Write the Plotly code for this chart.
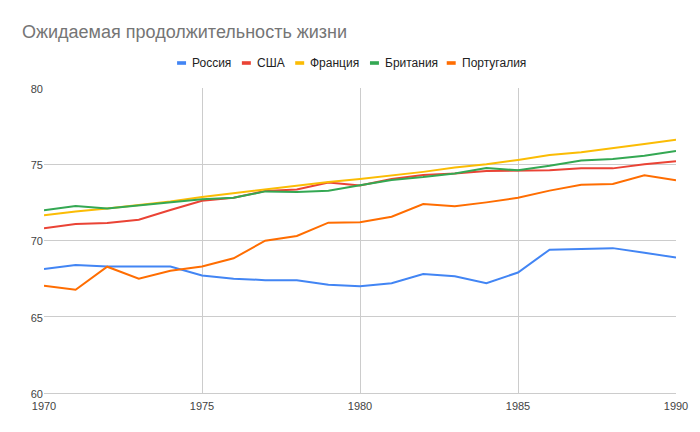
import plotly.graph_objects as go

years = list(range(1970, 1991))
russia = [68.13, 68.4, 68.3, 68.3, 68.3, 67.7, 67.5, 67.4, 67.4, 67.1, 67.0, 67.2, 67.8, 67.65, 67.2, 67.9, 69.4, 69.45, 69.5, 69.2, 68.88]
usa = [70.8, 71.08, 71.15, 71.36, 72.0, 72.6, 72.8, 73.25, 73.35, 73.8, 73.6, 74.03, 74.3, 74.4, 74.55, 74.58, 74.6, 74.73, 74.73, 75.0, 75.2]
france = [71.65, 71.9, 72.1, 72.3, 72.55, 72.85, 73.1, 73.33, 73.6, 73.84, 74.03, 74.25, 74.5, 74.78, 75.0, 75.28, 75.6, 75.78, 76.07, 76.33, 76.6]
britain = [71.98, 72.26, 72.1, 72.3, 72.52, 72.7, 72.8, 73.22, 73.18, 73.27, 73.62, 73.97, 74.16, 74.4, 74.75, 74.6, 74.9, 75.25, 75.34, 75.56, 75.87]
portugal = [67.04, 66.77, 68.28, 67.5, 68.02, 68.3, 68.83, 69.99, 70.3, 71.17, 71.19, 71.56, 72.39, 72.24, 72.5, 72.8, 73.27, 73.66, 73.7, 74.27, 73.95]

names = ["Россия", "США", "Франция", "Британия", "Португалия"]
colors = ["#4285F4", "#EA4335", "#FBBC04", "#34A853", "#FF6D01"]
series = [russia, usa, france, britain, portugal]

W, H = 700, 432
ML, MR, MT, MB = 44, 22, 88, 39
PW, PH = W - ML - MR, H - MT - MB
FONT = "Liberation Sans, Arial, sans-serif"

def px_x(p):
    return (p - ML) / PW

def px_y(p):
    return (H - MB - p) / PH

fig = go.Figure()
for n, c, s in zip(names, colors, series):
    fig.add_trace(go.Scatter(x=years, y=s, mode="lines", name=n,
                             line=dict(color=c, width=2), showlegend=False))

# manual legend (Google Sheets style: short bar + label)
legend_sym_x = [177.5, 242.5, 296, 371, 448]
legend_y = 63
shapes = []
annotations = []
for n, c, sx in zip(names, colors, legend_sym_x):
    shapes.append(dict(type="rect", xref="paper", yref="paper",
                       x0=px_x(sx), x1=px_x(sx + 9), y0=px_y(legend_y + 1.8), y1=px_y(legend_y - 1.8),
                       fillcolor=c, line=dict(width=0), layer="above"))
    annotations.append(dict(text=n, xref="paper", yref="paper", x=px_x(sx + 13), y=px_y(legend_y),
                            xanchor="left", yanchor="middle", showarrow=False,
                            font=dict(family=FONT, size=12, color="#222222")))

fig.update_layout(
    width=W, height=H,
    margin=dict(l=ML, r=MR, t=MT, b=MB),
    paper_bgcolor="white", plot_bgcolor="white",
    font=dict(family=FONT, size=12, color="#222222"),
    title=dict(text="Ожидаемая продолжительность жизни",
               font=dict(family=FONT, size=18, color="#757575"),
               x=22/W, xanchor="left", xref="container",
               y=1-32/H, yanchor="middle", yref="container"),
    showlegend=False,
    hovermode=False,
    shapes=shapes,
    annotations=annotations,
)
fig.update_xaxes(range=[1970, 1990], tickvals=[1970, 1975, 1980, 1985, 1990],
                 showgrid=True, gridcolor="#cccccc", gridwidth=1,
                 showline=True, linecolor="#cccccc", mirror=False,
                 zeroline=False, ticks="", ticklabelstandoff=3,
                 tickfont=dict(family=FONT, color="#444444", size=11))
fig.update_yaxes(range=[60, 80], tickvals=[60, 65, 70, 75, 80],
                 showgrid=True, gridcolor="#cccccc", gridwidth=1,
                 zeroline=False, ticks="", ticklabelshift=1,
                 tickfont=dict(family=FONT, color="#444444", size=11))

fig.write_html("out.html")
